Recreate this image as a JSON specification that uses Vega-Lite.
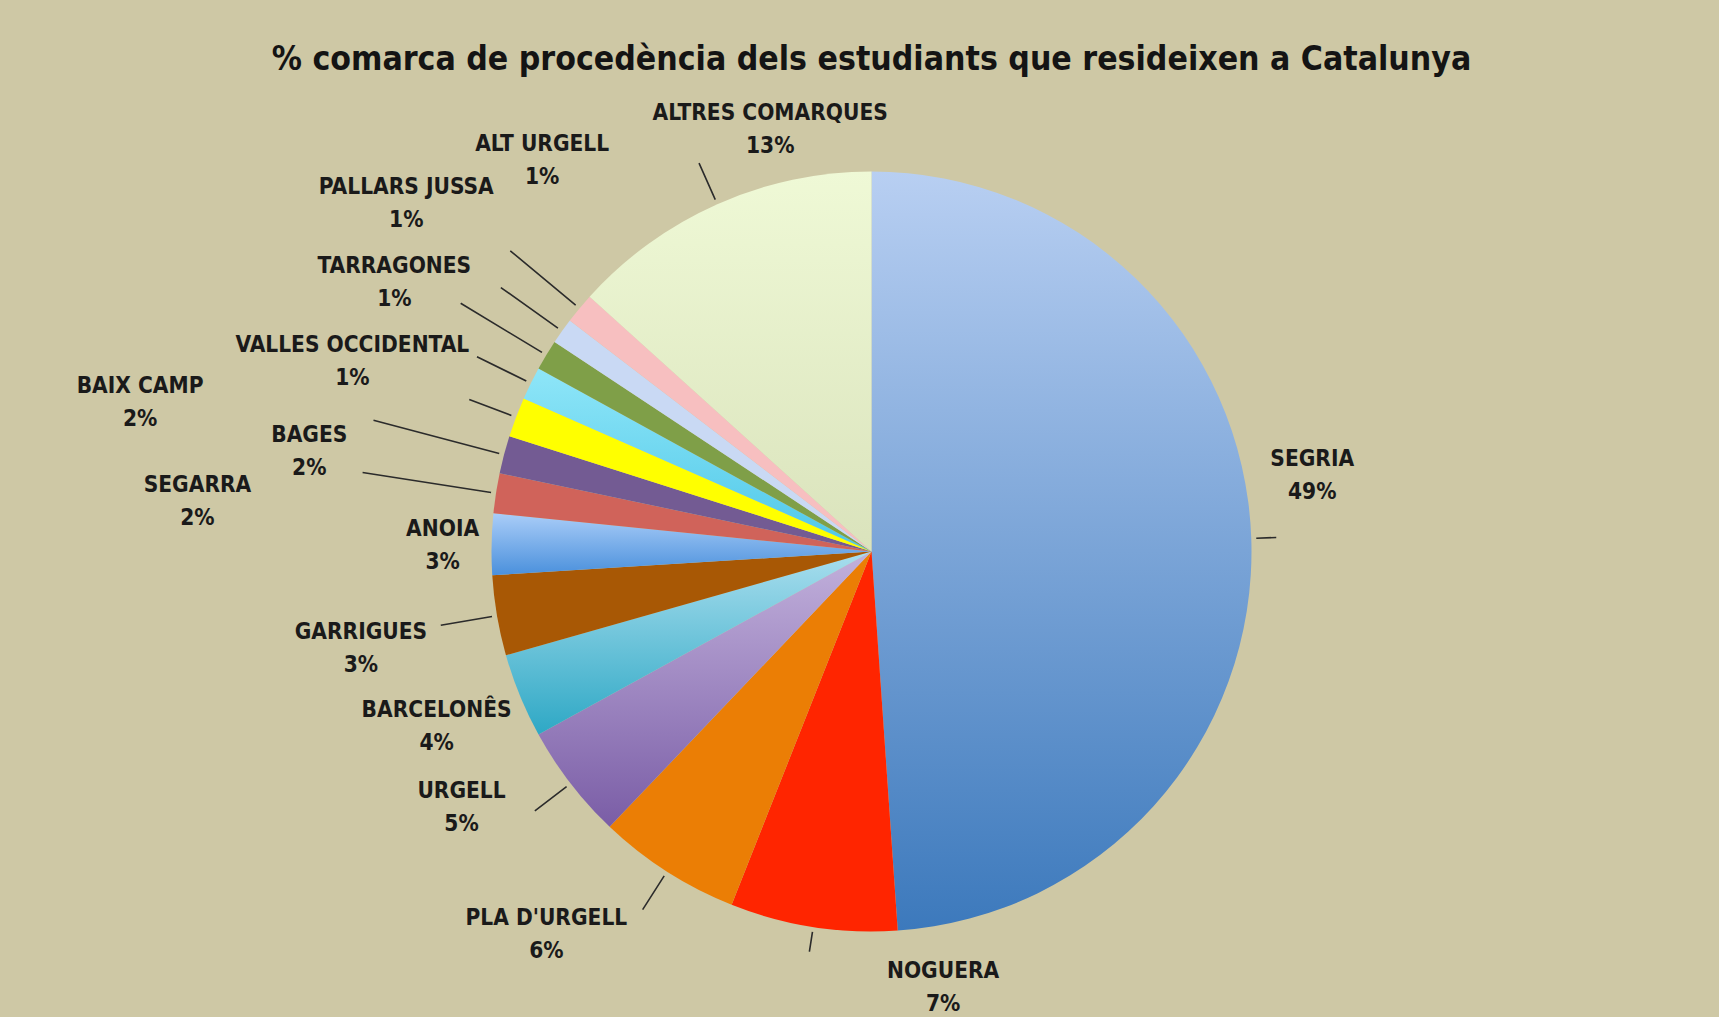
{
  "$schema": "https://vega.github.io/schema/vega-lite/v6.json",
  "width": 1695,
  "height": 931,
  "autosize": {"type": "none"},
  "padding": {"left": 24, "top": 86, "right": 0, "bottom": 0},
  "background": "#CEC8A5",
  "title": {
    "text": "% comarca de procedència dels estudiants que resideixen a Catalunya",
    "font": "DejaVu Sans Condensed, DejaVu Sans, sans-serif",
    "fontSize": 33.5,
    "fontWeight": "bold",
    "color": "#141414",
    "anchor": "middle",
    "frame": "group",
    "offset": -17,
    "baseline": "alphabetic"
  },
  "data": {
    "values": [
      {"ord": 0, "name": "SEGRIA", "share": 0.489},
      {"ord": 1, "name": "NOGUERA", "share": 0.071},
      {"ord": 2, "name": "PLA D'URGELL", "share": 0.061},
      {"ord": 3, "name": "URGELL", "share": 0.049},
      {"ord": 4, "name": "BARCELONÊS", "share": 0.036},
      {"ord": 5, "name": "GARRIGUES", "share": 0.034},
      {"ord": 6, "name": "ANOIA", "share": 0.026},
      {"ord": 7, "name": "SEGARRA", "share": 0.017},
      {"ord": 8, "name": "BAGES", "share": 0.016},
      {"ord": 9, "name": "BAIX CAMP", "share": 0.017},
      {"ord": 10, "name": "VALLES OCCIDENTAL", "share": 0.014},
      {"ord": 11, "name": "TARRAGONES", "share": 0.013},
      {"ord": 12, "name": "PALLARS JUSSA", "share": 0.011},
      {"ord": 13, "name": "ALT URGELL", "share": 0.013},
      {"ord": 14, "name": "ALTRES COMARQUES", "share": 0.133}
    ]
  },
  "encoding": {
    "theta": {"field": "share", "type": "quantitative", "stack": true},
    "order": {"field": "ord", "type": "quantitative", "sort": "ascending"}
  },
  "layer": [
    {
      "mark": {"type": "arc", "radius": 380, "stroke": null},
      "encoding": {
        "color": {
          "condition": [
            {"test": "datum.ord === 0", "value": {"gradient": "linear", "x1": 0, "y1": 0, "x2": 0, "y2": 1, "stops": [{"offset": 0, "color": "#B8CFF2"}, {"offset": 1, "color": "#3C79BC"}]}},
            {"test": "datum.ord === 3", "value": {"gradient": "linear", "x1": 0, "y1": 0, "x2": 0, "y2": 1, "stops": [{"offset": 0, "color": "#C2B1DC"}, {"offset": 1, "color": "#7A5DA6"}]}},
            {"test": "datum.ord === 4", "value": {"gradient": "linear", "x1": 0, "y1": 0, "x2": 0, "y2": 1, "stops": [{"offset": 0, "color": "#A9DEEE"}, {"offset": 1, "color": "#2EA8C5"}]}},
            {"test": "datum.ord === 6", "value": {"gradient": "linear", "x1": 0, "y1": 0, "x2": 0, "y2": 1, "stops": [{"offset": 0, "color": "#AACDF8"}, {"offset": 1, "color": "#4A90DC"}]}},
            {"test": "datum.ord === 10", "value": {"gradient": "linear", "x1": 0, "y1": 0, "x2": 0, "y2": 1, "stops": [{"offset": 0, "color": "#8FE6F8"}, {"offset": 1, "color": "#4DC7E8"}]}},
            {"test": "datum.ord === 14", "value": {"gradient": "linear", "x1": 0, "y1": 0, "x2": 0, "y2": 1, "stops": [{"offset": 0, "color": "#EFF9D6"}, {"offset": 1, "color": "#DAE3BC"}]}}
          ],
          "field": "name",
          "type": "nominal",
          "legend": null,
          "scale": {
            "domain": ["SEGRIA", "NOGUERA", "PLA D'URGELL", "URGELL", "BARCELONÊS", "GARRIGUES", "ANOIA", "SEGARRA", "BAGES", "BAIX CAMP", "VALLES OCCIDENTAL", "TARRAGONES", "PALLARS JUSSA", "ALT URGELL", "ALTRES COMARQUES"],
            "range": ["#7FA6DA", "#FF2500", "#EB7E05", "#9E86C3", "#6FC4DA", "#A85805", "#7BAFEA", "#D0635A", "#735B93", "#FFFF00", "#6DD8F0", "#7F9F48", "#C9D9F4", "#F7BFC0", "#E5EEC9"]
          }
        }
      }
    },
    {
      "mark": {
        "type": "arc",
        "filled": false,
        "padAngle": 3,
        "radius": {"expr": "[405, 405, 425, 425, 385, 437, 385, 515, 515, 430, 440, 480, 455, 470, 425][datum.ord]"},
        "radius2": 385,
        "stroke": "#2b2b2b",
        "strokeWidth": 1.6
      },
      "encoding": {}
    },
    {
      "mark": {
        "type": "text",
        "font": "DejaVu Sans Condensed, DejaVu Sans, sans-serif",
        "fontSize": 22.5,
        "fontWeight": "bold",
        "color": "#1a1a1a",
        "align": "center",
        "baseline": "middle",
        "radius": {"expr": "[443, 420, 498, 481, 469, 520, 429, 674, 569, 737, 550, 547, 581, 504, 427][datum.ord]"},
        "dx": {"expr": "[-2, 136, -57, -29, -1, 2, 0, -8, -12, -42, -26, -9, 8, 58, 72][datum.ord]"},
        "dy": {"expr": "[-61, 21, -37, -38, -3, 9, 2, 53, 45, 112, 54, 14, -11, -69, -32][datum.ord] - 16.5"}
      },
      "encoding": {"text": {"field": "name", "type": "nominal"}}
    },
    {
      "mark": {
        "type": "text",
        "font": "DejaVu Sans Condensed, DejaVu Sans, sans-serif",
        "fontSize": 22.5,
        "fontWeight": "bold",
        "color": "#1a1a1a",
        "align": "center",
        "baseline": "middle",
        "radius": {"expr": "[443, 420, 498, 481, 469, 520, 429, 674, 569, 737, 550, 547, 581, 504, 427][datum.ord]"},
        "dx": {"expr": "[-2, 136, -57, -29, -1, 2, 0, -8, -12, -42, -26, -9, 8, 58, 72][datum.ord]"},
        "dy": {"expr": "[-61, 21, -37, -38, -3, 9, 2, 53, 45, 112, 54, 14, -11, -69, -32][datum.ord] + 16.5"}
      },
      "encoding": {"text": {"field": "share", "type": "quantitative", "format": ".0%"}}
    }
  ],
  "config": {
    "view": {"stroke": null},
    "font": "DejaVu Sans Condensed, DejaVu Sans, sans-serif"
  }
}
